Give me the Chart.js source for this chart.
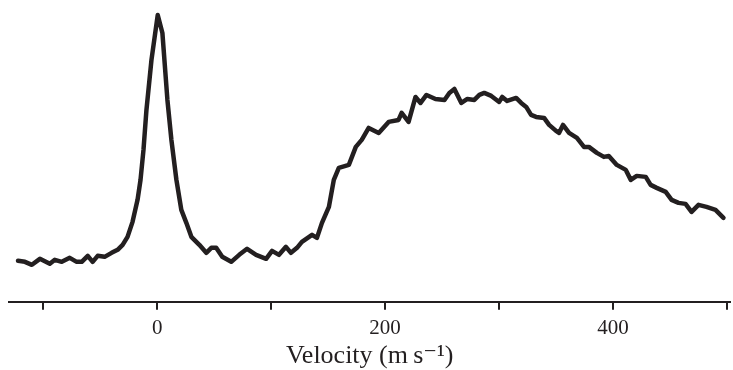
<!DOCTYPE html>
<html>
<head>
<meta charset="utf-8">
<script src="https://cdn.jsdelivr.net/npm/chart.js@4"></script>
<style>
  html, body { margin: 0; padding: 0; background: #fff; }
  #chart { display: block; }
</style>
</head>
<body>
<canvas id="chart" width="733" height="370"></canvas>
<script>
'use strict';

// velocity (m/s)
const velocity = [
  -122.1, -116.0, -109.9, -102.9, -94.2, -89.8, -83.7, -76.7, -70.6, -66.2,
  -60.9, -56.6, -52.2, -46.1, -40.0, -34.7, -30.3, -26.0, -21.6, -17.2,
  -14.6, -12.0, -9.4, -5.0, 0.5, 4.6, 9.0, 12.5, 16.9, 21.2,
  25.6, 30.0, 37.0, 43.1, 47.5, 51.8, 57.1, 65.0, 72.0, 78.9,
  86.8, 95.6, 100.8, 106.9, 113.0, 117.4, 122.7, 127.0, 135.9, 140.2,
  144.6, 150.7, 155.0, 159.4, 168.2, 174.3, 179.5, 185.6, 194.4, 203.1,
  211.8, 214.5, 220.6, 226.7, 231.1, 236.3, 244.2, 252.1, 256.4, 260.8,
  266.9, 272.2, 278.3, 282.7, 287.0, 293.2, 300.1, 302.8, 307.1, 315.0,
  319.4, 323.8, 328.1, 332.5, 339.5, 343.9, 350.0, 352.6, 356.1, 361.4,
  368.3, 374.5, 378.8, 385.8, 392.0, 396.3, 403.3, 411.2, 415.6, 420.8,
  428.7, 433.0, 438.3, 446.2, 451.4, 457.5, 463.6, 468.9, 475.0, 482.0,
  489.9, 496.9
];
// signal (arbitrary units)
const signal = [
  41, 40, 37, 43, 38, 42, 40, 44, 40, 40,
  46, 40, 46, 45, 49, 52, 57, 65, 80, 102,
  122, 152, 192, 242, 287, 269, 202, 162, 122, 92,
  79, 65, 57, 49, 54, 54, 45, 40, 47, 53,
  47, 43, 51, 47, 55, 49, 54, 60, 67, 64,
  79, 95, 122, 134, 137, 155, 162, 174, 169, 180,
  182, 189, 180, 205, 199, 207, 203, 202, 209, 213,
  199, 203, 202, 207, 209, 206, 200, 205, 201, 204,
  199, 195, 187, 185, 184, 177, 171, 169, 177, 169,
  164, 155, 155, 149, 145, 146, 137, 132, 122, 126,
  125, 117, 114, 110, 102, 99, 98, 90, 97, 95,
  92, 84
];
const tickLabels = [0, 200, 400];

const ink = '#231f20';
const serif = "'Liberation Serif', 'DejaVu Serif', serif";

const points = velocity.map((v, i) => ({ x: v, y: signal[i] }));

new Chart(document.getElementById('chart').getContext('2d'), {
  type: 'line',
  data: {
    datasets: [{
      data: points,
      borderColor: ink,
      borderWidth: 4.5,
      borderJoinStyle: 'round',
      borderCapStyle: 'round',
      pointRadius: 0,
      tension: 0,
      fill: false
    }]
  },
  options: {
    responsive: false,
    animation: false,
    layout: { padding: { left: 9, right: 0, top: 0, bottom: 0 } },
    plugins: { legend: { display: false }, tooltip: { enabled: false } },
    scales: {
      x: {
        type: 'linear',
        min: -130,
        max: 503,
        border: { display: true, color: ink, width: 2 },
        grid: { drawOnChartArea: false, drawTicks: true, tickLength: 8, color: ink, lineWidth: 2 },
        ticks: {
          stepSize: 100,
          includeBounds: false,
          autoSkip: false,
          maxRotation: 0,
          padding: 6,
          color: ink,
          font: { family: serif, size: 21 },
          callback: (v) => tickLabels.includes(v) ? String(v) : ''
        },
        title: {
          display: true,
          text: 'Velocity (m\u2009s\u207B\u00B9)',
          color: ink,
          font: { family: serif, size: 26, lineHeight: 1 },
          padding: { top: -4, bottom: 1 }
        }
      },
      y: {
        display: false,
        min: 0,
        max: 302
      }
    }
  }
});
</script>
</body>
</html>
